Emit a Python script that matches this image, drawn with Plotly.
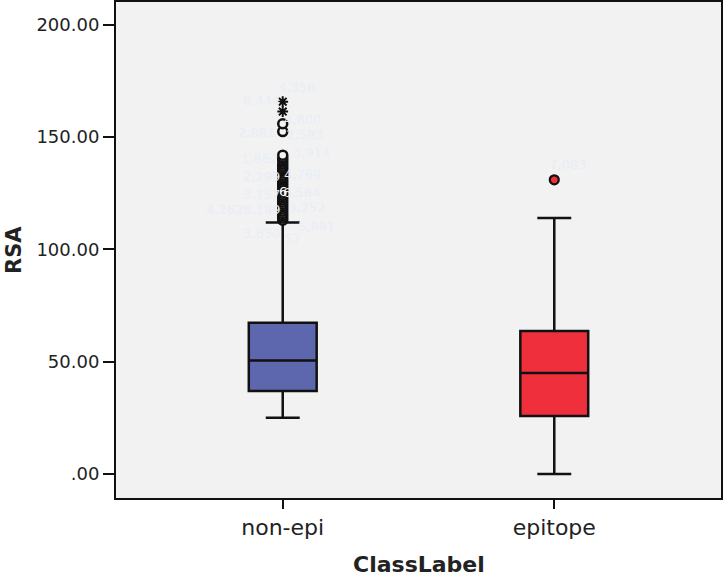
import plotly.graph_objects as go

categories = ["non-epi", "epitope"]
q1 = [37.0, 25.8]
median = [50.5, 45.0]
q3 = [67.3, 63.7]
lower_whisker = [25.0, 0.0]
upper_whisker = [112.0, 114.0]
box_colors = ["#5c67ae", "#ef2f3c"]

# outliers (circles) and extremes (stars)
nonepi_outliers = [113, 114, 115, 116, 117, 118, 119, 120, 121, 122, 123, 124, 125,
                   126, 127, 128, 129, 130, 131, 132, 133, 134, 135, 136, 137, 138,
                   139, 140, 141, 142, 152.5, 156]
nonepi_extremes = [161.4, 165.8]
epi_outliers = [131.0]

# faint case labels (text, x offset from category index, y value)
label_texts = ["4,356", "8,444", "4,800", "2,881", "2,583", "3,914", "1,862", "2,299",
               "4,769", "3,157", "6,564", "4,2628,189", "3,252", "3,630", "5,881", "57", "7,083"]
label_x = [0.05, -0.077, 0.074, -0.096, 0.08, 0.107, -0.085, -0.077, 0.074, -0.077,
           0.07, -0.147, 0.088, -0.077, 0.125, 0.037, 1.048]
label_y = [172, 166.4, 158, 152.3, 151, 143, 140.7, 132.3, 133.2, 124.3, 125.2, 117.6,
           118.5, 107.3, 110, 104.7, 137.7]

y_ticks = [0, 50, 100, 150, 200]
y_ticktext = [".00", "50.00", "100.00", "150.00", "200.00"]

FONT = "DejaVu Sans"

fig = go.Figure()
for i, cat in enumerate(categories):
    fig.add_trace(go.Box(
        x=[i], q1=[q1[i]], median=[median[i]], q3=[q3[i]],
        lowerfence=[lower_whisker[i]], upperfence=[upper_whisker[i]],
        fillcolor=box_colors[i], line=dict(color="#111111", width=2.5),
        width=0.25, whiskerwidth=0.5, boxpoints=False, showlegend=False,
        name=cat, hoverinfo="skip"))

fig.add_trace(go.Scatter(
    x=[0] * len(nonepi_outliers), y=nonepi_outliers, mode="markers",
    marker=dict(symbol="circle", size=9, color="#f2f2f2",
                line=dict(color="#111111", width=2.5)), showlegend=False))
fig.add_trace(go.Scatter(
    x=[0] * len(nonepi_extremes), y=nonepi_extremes, mode="markers",
    marker=dict(symbol="asterisk-open", size=9, color="#111111",
                line=dict(color="#111111", width=2)), showlegend=False))
fig.add_trace(go.Scatter(
    x=[1] * len(epi_outliers), y=epi_outliers, mode="markers",
    marker=dict(symbol="circle", size=9, color=box_colors[1],
                line=dict(color="#111111", width=2.2)), showlegend=False))

for t, lx, ly in zip(label_texts, label_x, label_y):
    fig.add_annotation(x=lx, y=ly, text=t, showarrow=False,
                       font=dict(size=13, color="#e8edf6", family=FONT))
fig.add_annotation(x=0, y=125.6, text="6", showarrow=False,
                   font=dict(size=13, color="#ffffff", family=FONT))

# axis titles
fig.add_annotation(xref="paper", yref="paper", x=0, y=0.5, xshift=-102,
                   text="<b>RSA</b>", textangle=-90, showarrow=False,
                   xanchor="center", yanchor="middle",
                   font=dict(size=21, color="#222222", family=FONT))
fig.add_annotation(xref="paper", yref="paper", x=0.5, y=0, yshift=-66,
                   text="<b>ClassLabel</b>", showarrow=False,
                   xanchor="center", yanchor="middle",
                   font=dict(size=22, color="#222222", family=FONT))

fig.update_layout(
    width=723, height=576,
    margin=dict(l=116, r=2, t=2, b=78),
    paper_bgcolor="#ffffff", plot_bgcolor="#f2f2f2",
    font=dict(family=FONT, color="#222222", size=18),
    xaxis=dict(range=[-0.614, 1.614], tickvals=[0, 1], ticktext=categories,
               showgrid=False, zeroline=False, showline=True, mirror=True,
               linecolor="#111111", linewidth=2, ticks="outside", ticklen=9,
               tickwidth=2, tickcolor="#111111", automargin=False,
               tickfont=dict(size=22, family=FONT, color="#222222")),
    yaxis=dict(range=[-10.7, 210.2], tickvals=y_ticks, ticktext=y_ticktext,
               showgrid=False, zeroline=False, showline=True, mirror=True,
               linecolor="#111111", linewidth=2, ticks="outside", ticklen=11,
               tickwidth=2, tickcolor="#111111", automargin=False,
               tickfont=dict(size=18, family=FONT, color="#222222")),
)

fig.write_html("out.html", config={"displayModeBar": False},
               post_script="document.body.style.margin='0';document.body.style.overflow='hidden';")
